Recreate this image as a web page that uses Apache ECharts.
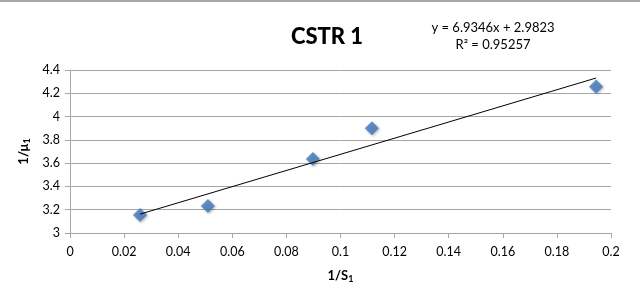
<!DOCTYPE html>
<html>
<head>
<meta charset="utf-8">
<script src="https://cdn.jsdelivr.net/npm/echarts@6/dist/echarts.min.js"></script>
<style>
  html, body { margin: 0; padding: 0; background: #fff; }
  #chart { width: 640px; height: 295px; }
</style>
</head>
<body>
<div id="chart"></div>
<script>
// measured points (1/S1, 1/mu1)
const xValues = [0.0259, 0.051, 0.0898, 0.1116, 0.1945]
const yValues = [3.155, 3.232, 3.636, 3.90, 4.257]
// Excel trendline as printed on the chart
const slope = 6.9346
const intercept = 2.9823
const rSquared = '0.95257'

const points = xValues.map((x, i) => [x, yValues[i]])
const xMin = Math.min(...xValues)
const xMax = Math.max(...xValues)
const trend = [[xMin, slope * xMin + intercept], [xMax, slope * xMax + intercept]]

const font = 'Lato, "Liberation Sans", sans-serif'
const chart = echarts.init(document.getElementById('chart'))

const nameRich = {
  b: { fontSize: 13, fontWeight: 'bold', color: '#000', fontFamily: font },
  s: { fontSize: 9, fontWeight: 'bold', color: '#000', verticalAlign: 'bottom', padding: [7, 0, 0, 0], fontFamily: font }
}

chart.setOption({
  backgroundColor: '#fff',
  animation: false,
  textStyle: { fontFamily: font },
  title: {
    text: 'CSTR 1',
    left: 322,
    top: 21,
    textAlign: 'center',
    textStyle: { fontSize: 22, fontWeight: 900, color: '#000', fontFamily: font }
  },
  graphic: [
    {
      type: 'text',
      x: 493,
      y: 19,
      style: {
        text: 'y = ' + slope + 'x + ' + intercept + '\nR² = ' + rSquared,
        fontSize: 13,
        lineHeight: 17,
        align: 'center',
        textAlign: 'center',
        fill: '#000',
        fontFamily: font
      }
    },
    {
      type: 'line',
      shape: { x1: 0, y1: 1, x2: 640, y2: 1 },
      style: { stroke: '#a6a6a6', lineWidth: 2 }
    }
  ],
  grid: { left: 70, right: 29, top: 70, bottom: 62 },
  xAxis: {
    type: 'value',
    min: 0,
    max: 0.2,
    interval: 0.02,
    name: '{b|1/S}{s|1}',
    nameLocation: 'middle',
    nameGap: 35,
    nameTextStyle: { rich: nameRich },
    axisLine: { lineStyle: { color: '#a6a6a6' } },
    axisTick: { show: true, length: 5, lineStyle: { color: '#a6a6a6' } },
    axisLabel: { color: '#000', fontSize: 12.5, margin: 12 },
    splitLine: { show: false }
  },
  yAxis: {
    type: 'value',
    min: 3,
    max: 4.4,
    interval: 0.2,
    name: '{b|1/μ}{s|1}',
    nameLocation: 'middle',
    nameGap: 34,
    nameTextStyle: { rich: nameRich },
    axisLine: { show: true, lineStyle: { color: '#a6a6a6' } },
    axisTick: { show: true, length: 5, lineStyle: { color: '#a6a6a6' } },
    axisLabel: {
      color: '#000',
      fontSize: 12.5,
      margin: 10,
      formatter: v => String(Math.round(v * 10) / 10)
    },
    splitLine: { show: true, lineStyle: { color: '#a6a6a6', width: 1 } }
  },
  series: [
    {
      type: 'line',
      data: trend,
      symbol: 'none',
      lineStyle: { color: '#000', width: 1 },
      z: 3
    },
    {
      type: 'scatter',
      data: points,
      symbol: 'rect',
      symbolRotate: 45,
      symbolSize: 10,
      itemStyle: {
        color: '#4178be',
        shadowColor: 'rgba(0,0,0,0.35)',
        shadowBlur: 3,
        shadowOffsetX: 1,
        shadowOffsetY: 1
      },
      z: 2
    }
  ]
})
</script>
</body>
</html>
